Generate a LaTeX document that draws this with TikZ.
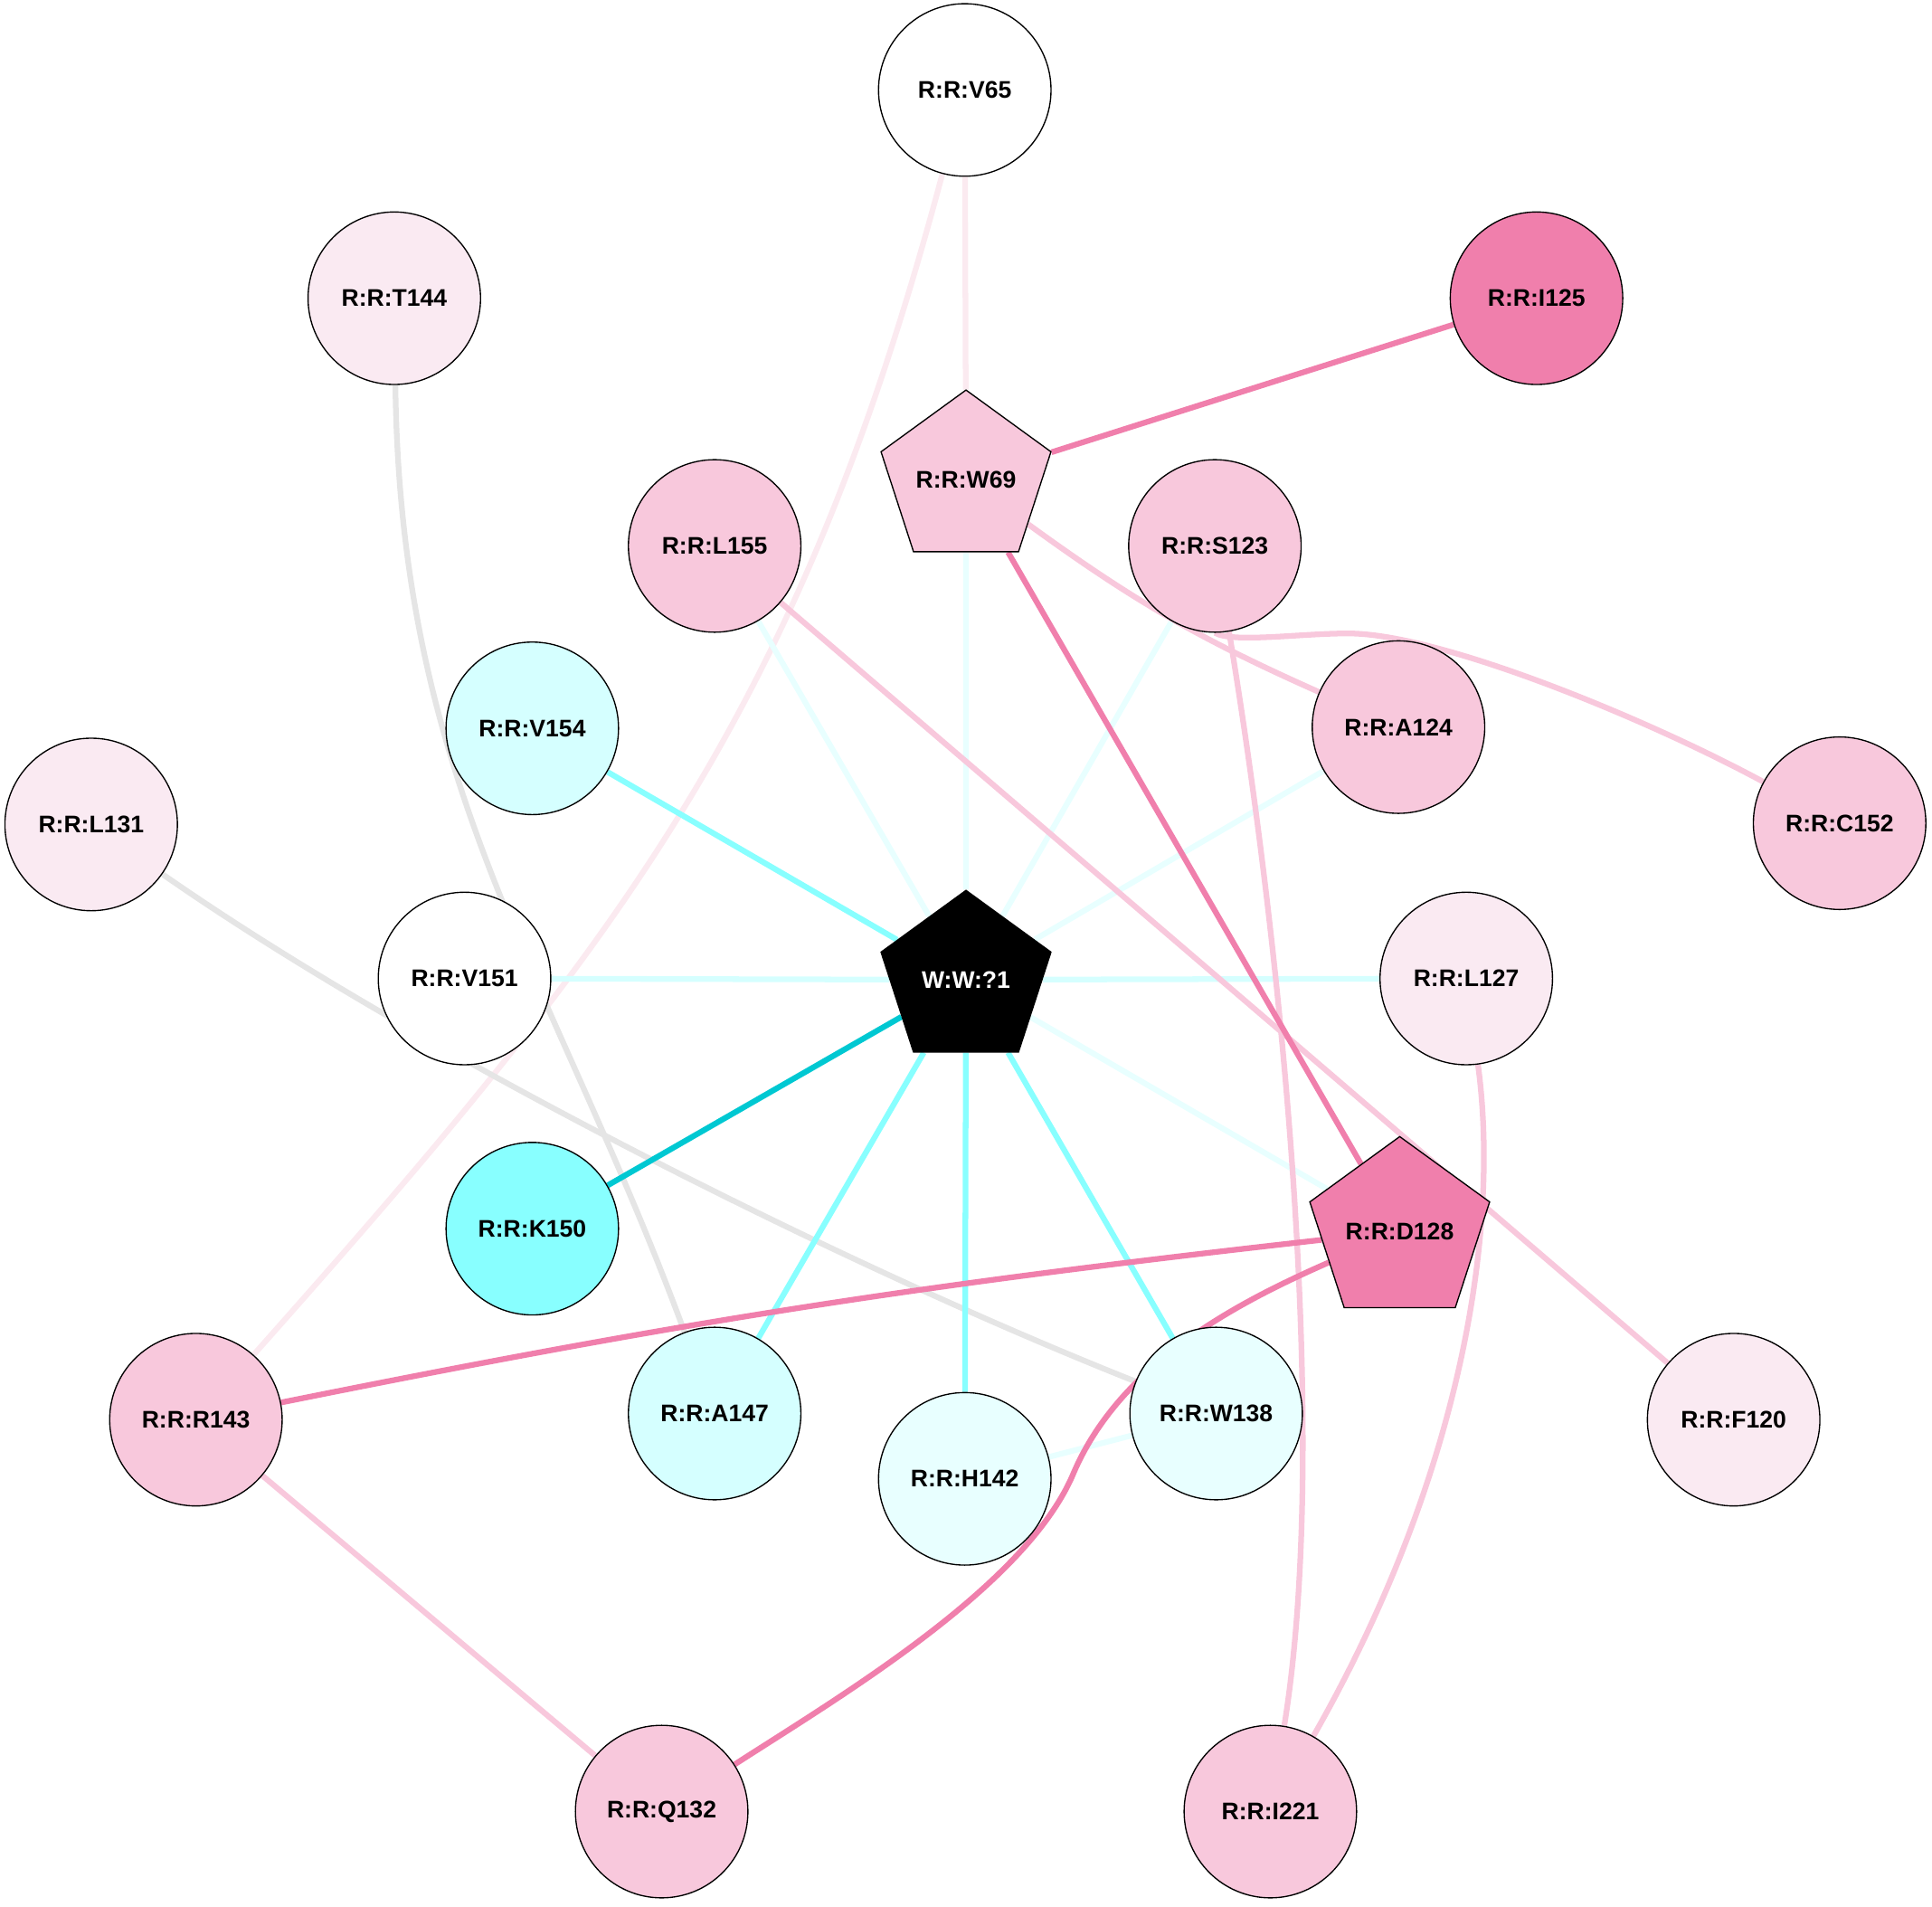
\documentclass[tikz,border=0pt]{standalone}
\usepackage{fontspec}
\setmainfont{Liberation Sans}
\usetikzlibrary{shapes.geometric,backgrounds}
\definecolor{pkS}{HTML}{F07FAC}
\definecolor{pkM}{HTML}{F8C8DC}
\definecolor{pkL}{HTML}{FAEAF2}
\definecolor{pkE}{HTML}{FBEAF0}
\definecolor{cyS}{HTML}{88FFFF}
\definecolor{cyM}{HTML}{D5FFFF}
\definecolor{cyL}{HTML}{E8FFFF}
\definecolor{tealE}{HTML}{00C8D2}
\definecolor{grayE}{HTML}{E5E5E5}
\begin{document}
\begin{tikzpicture}[x=1pt,y=-1pt,
  lbl/.style={font=\fontsize{19.5}{23}\selectfont\bfseries},
  res/.style={lbl,circle,draw=black,line width=1pt,minimum size=140pt,inner sep=0pt},
  pent/.style={lbl,regular polygon,regular polygon sides=5,draw=black,line width=1pt,minimum size=145pt,inner sep=0pt},
  ed/.style={line width=4.6pt}]
\useasboundingbox (0,0) rectangle (1568,1547);
% nodes
\node[res,fill=white] (v65) at (783,73) {R:R:V65};
\node[res,fill=pkL] (t144) at (320,242) {R:R:T144};
\node[res,fill=pkS] (i125) at (1247,242) {R:R:I125};
\node[pent,fill=pkM] (w69) at (784,389) {R:R:W69};
\node[res,fill=pkM] (l155) at (580,443) {R:R:L155};
\node[res,fill=pkM] (s123) at (986,443) {R:R:S123};
\node[res,fill=cyM] (v154) at (432,591) {R:R:V154};
\node[res,fill=pkM] (a124) at (1135,590) {R:R:A124};
\node[res,fill=pkL] (l131) at (74,669) {R:R:L131};
\node[res,fill=pkM] (c152) at (1493,668) {R:R:C152};
\node[res,fill=white] (v151) at (377,794) {R:R:V151};
\node[pent,fill=black,text=white] (w1) at (784,795) {W:W:?1};
\node[res,fill=pkL] (l127) at (1190,794) {R:R:L127};
\node[res,fill=cyS] (k150) at (432,997) {R:R:K150};
\node[pent,fill=pkS] (d128) at (1136,999) {R:R:D128};
\node[res,fill=pkM] (r143) at (159,1152) {R:R:R143};
\node[res,fill=cyM] (a147) at (580,1147) {R:R:A147};
\node[res,fill=cyL] (w138) at (987,1147) {R:R:W138};
\node[res,fill=pkL] (f120) at (1407,1152) {R:R:F120};
\node[res,fill=cyL] (h142) at (783,1200) {R:R:H142};
\node[res,fill=pkM] (q132) at (537,1470) {R:R:Q132};
\node[res,fill=pkM] (i221) at (1031,1470) {R:R:I221};
% edges
\begin{scope}[on background layer]
\draw[ed,pkE] (v65) -- (w69);
\draw[ed,pkE] (v65) .. controls (648,579) and (503,765) .. (r143);
\draw[ed,grayE] (t144) .. controls (325,640) and (448,790) .. (a147);
\draw[ed,grayE] (l131) .. controls (338,853) and (680,1025) .. (w138);
\draw[ed,cyL] (w69) -- (w1);
\draw[ed,cyL] (l155) -- (w1);
\draw[ed,cyL] (s123) -- (w1);
\draw[ed,cyL] (a124) -- (w1);
\draw[ed,cyL] (w1) -- (d128);
\draw[ed,cyL] (h142) -- (w138);
\draw[ed,cyM] (v151) -- (w1);
\draw[ed,cyM] (l127) -- (w1);
\draw[ed,cyS] (v154) -- (w1);
\draw[ed,cyS] (w1) -- (a147);
\draw[ed,cyS] (w1) -- (h142);
\draw[ed,cyS] (w1) -- (w138);
\draw[ed,tealE] (k150) -- (w1);
\draw[ed,pkM] (l155) -- (f120);
\draw[ed,pkM] (w69) to[bend right=6] (a124);
\draw[ed,pkM] (s123.south) .. controls (1000,522) and (1055,514) .. (1094,514) .. controls (1170,514) and (1340,585) .. (c152);
\draw[ed,pkM] (s123) .. controls (1045,800) and (1078,1180) .. (i221);
\draw[ed,pkM] (l127) .. controls (1218,1000) and (1185,1200) .. (i221);
\draw[ed,pkM] (r143) -- (q132);
\draw[ed,pkS] (i125) -- (w69);
\draw[ed,pkS] (w69) -- (d128);
\draw[ed,pkS] (d128) to[bend right=2.5] (r143);
\draw[ed,pkS] (d128) .. controls (1009,1055) and (910,1104) .. (871,1196) .. controls (832,1288) and (681,1377) .. (q132);
\end{scope}
\end{tikzpicture}
\end{document}
